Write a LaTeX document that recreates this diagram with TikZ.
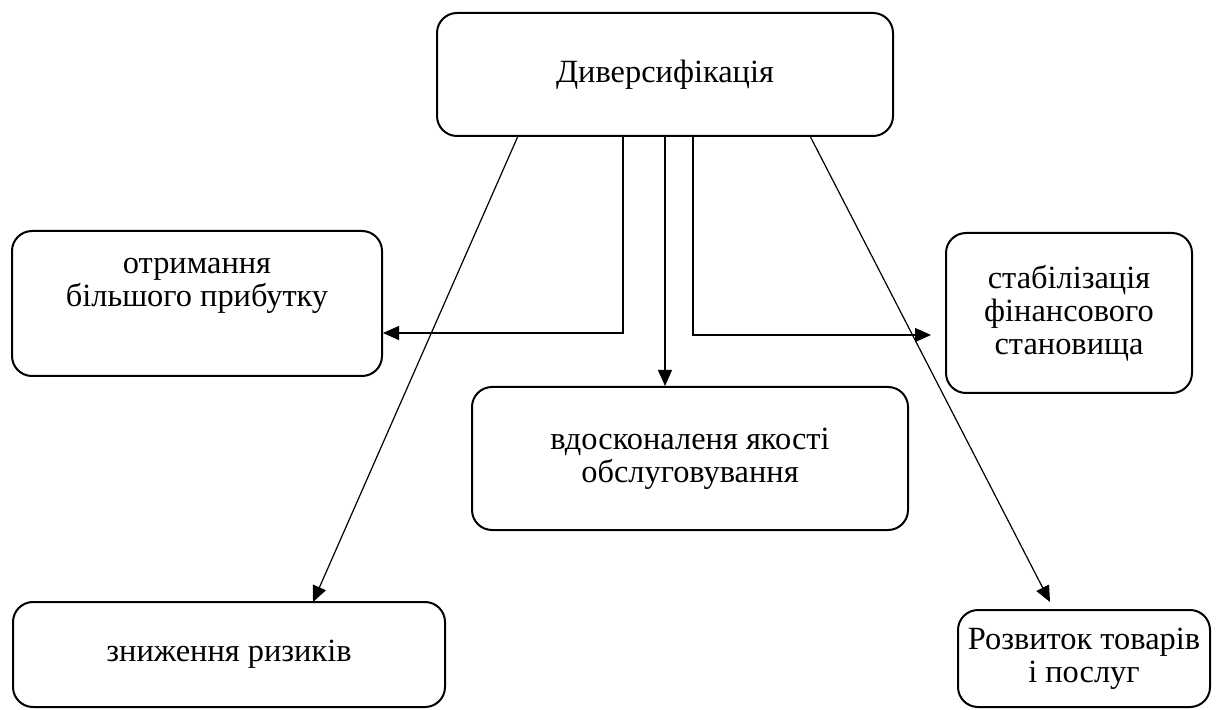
\documentclass[tikz,border=0pt]{standalone}
\usepackage{fontspec}
\setmainfont{Liberation Serif}
\usetikzlibrary{arrows.meta,positioning}

\begin{document}
\begin{tikzpicture}
	[x=0.5pt,y=-0.5pt,
	box/.style={draw=black,line width=1pt,rounded corners=10pt,align=center,
		font=\fontsize{16.2}{16.5}\selectfont,inner sep=2pt},
	link/.style={black,line width=0.6pt},
	arr/.style={link,-{Triangle[length=8pt,width=7pt]}}]
	\useasboundingbox (0,0) rectangle (1219,710);

	%blocks
	\node[box,minimum width=228pt,minimum height=61.5pt] (div) at (665,74.5) {Диверсифікація};
	\node[box,minimum width=185pt,minimum height=72.5pt] (profit) at (197,303.5) {отримання\\більшого прибутку\\\strut};
	\node[box,minimum width=123pt,minimum height=80pt] (stab) at (1069,313) {стабілізація\\фінансового\\становища};
	\node[box,minimum width=218pt,minimum height=71.5pt] (quality) at (690,458.5) {вдосконаленя якості\\обслуговування};
	\node[box,minimum width=216pt,minimum height=52.5pt] (risk) at (229,654.5) {зниження ризиків};
	\node[box,minimum width=126pt,minimum height=48.5pt] (goods) at (1084,658.5) {Розвиток товарів\\і послуг};

	%starts on the bottom of the top block
	\coordinate (s1) at (518,136);
	\coordinate (s2) at (623,136);
	\coordinate (s4) at (686,136);
	\coordinate (s5) at (810,136);
	\coordinate (e1) at (313,602);
	\coordinate (e5) at (1050,602);

	\draw[arr] (s1) -- (e1);
	\draw[arr] (s2) |- (profit.east |- 0,333);
	\draw[arr] (div.south -| 665,0) -- (quality.north -| 665,0);
	\draw[arr,shorten >=7pt] (s4) -- ++(7,0) |- (stab.west |- 0,335);
	\draw[arr] (s5) -- (e5);
\end{tikzpicture}
\end{document}
